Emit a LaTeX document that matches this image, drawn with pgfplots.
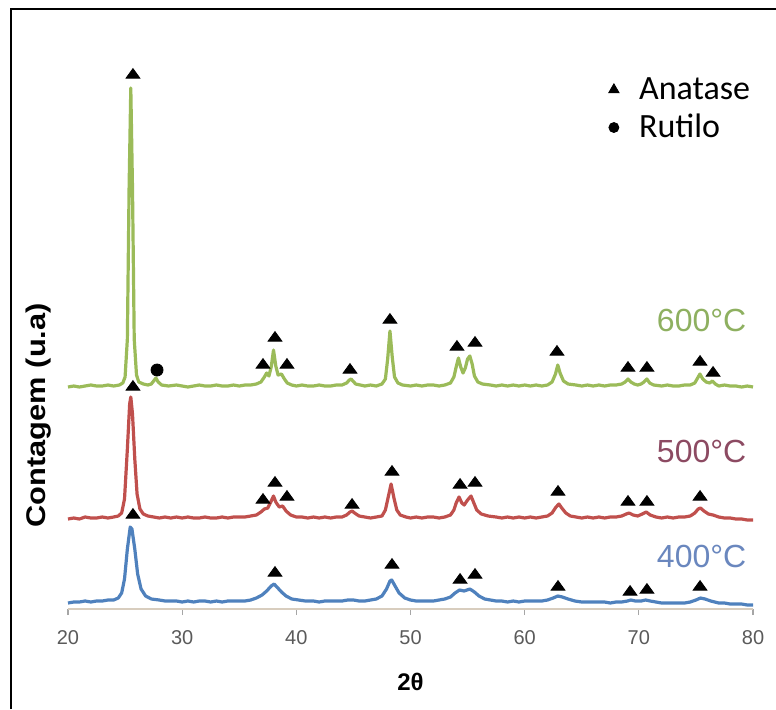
\documentclass[border=0pt]{standalone}
\usepackage{pgfplots}
\pgfplotsset{compat=1.18}
\usepackage{fontspec}
\setmainfont{Liberation Sans}
\newfontfamily\carlito{Carlito}
\definecolor{cgreen}{HTML}{9BBB59}
\definecolor{cred}{HTML}{C0504D}
\definecolor{cblue}{HTML}{4F81BD}
\definecolor{lgreen}{HTML}{8EB060}
\definecolor{lred}{HTML}{8C4A62}
\definecolor{lblue}{HTML}{6A87BE}
\definecolor{tickgray}{HTML}{5A5A5A}
\definecolor{axisgray}{HTML}{D8CDBE}
\begin{document}
\begin{tikzpicture}
\path[use as bounding box] (0,0) rectangle (388pt,354.5pt);
\draw[line width=1pt] (5.5pt,0) -- (5.5pt,350pt) -- (388pt,350pt);
\begin{axis}[
  at={(34pt,50pt)}, anchor=south west,
  scale only axis, width=342.5pt, height=280pt,
  xmin=20, xmax=80, ymin=0, ymax=560,
  hide y axis,
  axis x line*=bottom,
  x axis line style={-, draw=axisgray, line width=0.8pt},
  xtick={20,30,...,80},
  tick align=outside, major tick length=3pt,
  x tick style={draw=gray!70, line width=0.6pt},
  xticklabel style={font=\fontsize{10}{12}\selectfont, text=tickgray, yshift=-4pt},
  /pgf/number format/assume math mode=true,
  clip=false,
  xlabel={\textbf{2θ}},
  xlabel style={font=\bfseries\fontsize{12}{14}\selectfont, at={(axis description cs:0.5,0)}, anchor=center, yshift=-36.5pt},
  legend style={at={(axis cs:66.8,540)}, anchor=north west, draw=none, fill=none,
    font=\carlito\fontsize{17}{20}\selectfont, row sep=2pt},
  legend cell align=left,
]
\addlegendimage{only marks, mark=triangle*, mark size=3pt, black}
\addlegendentry{\hspace{8pt}Anatase}
\addlegendimage{only marks, mark=*, mark size=2.5pt, black}
\addlegendentry{\hspace{8pt}Rutilo}

% 400 C
\addplot[cblue, line width=1.6pt, line join=round] coordinates {
(20,6)(20.5,7)(21,7)(21.5,8)(22,7)(22.5,8)(23,8)(23.5,9)(24,9)(24.4,11)(24.7,16)(24.95,30)(25.2,60)(25.45,82)(25.6,80)(25.85,60)(26.1,35)(26.4,20)(26.8,13)(27.3,10)(28,9)(28.5,8)(29,8)(29.5,8)(30,7)(30.5,8)(31,7)(31.5,8)(32,8)(32.5,7)(33,8)(33.5,7)(34,8)(34.5,8)(35,8)(35.5,8)(36,9)(36.5,11)(37,14)(37.4,18)(37.8,23)(38.05,25)(38.3,22)(38.7,17)(39.1,13)(39.6,10)(40.2,9)(40.8,8)(41.5,8)(42,7)(42.5,8)(43,8)(43.5,8)(44,8)(44.5,9)(45,9)(45.5,8)(46,8)(46.5,9)(47,10)(47.5,13)(47.9,20)(48.2,28)(48.35,29)(48.6,24)(49,16)(49.5,11)(50,9)(50.5,8)(51,8)(51.5,8)(52,8)(52.5,9)(53,10)(53.5,12)(53.9,16)(54.3,19)(54.7,18)(55.2,20)(55.6,17)(56,13)(56.5,10)(57,9)(57.5,8)(58,8)(58.5,7)(59,8)(59.5,7)(60,8)(60.5,8)(61,8)(61.5,8)(62,9)(62.5,11)(62.9,13)(63.3,12)(63.8,10)(64.4,8)(65,7)(65.5,7)(66,7)(66.5,7)(67,7)(67.5,6)(68,7)(68.5,7)(69,8)(69.3,9)(69.7,8)(70.2,8)(70.6,9)(71,8)(71.5,7)(72,6)(72.5,6)(73,6)(73.5,6)(74,6)(74.5,7)(75,9)(75.4,11)(75.8,10)(76.3,8)(77,6)(77.5,6)(78,5)(78.5,5)(79,5)(79.5,4)(80,4)
};
% 500 C
\addplot[cred, line width=1.6pt, line join=round] coordinates {
(20,90)(20.5,91)(21,90)(21.5,92)(22,91)(22.5,91)(23,92)(23.5,91)(24,92)(24.4,93)(24.7,96)(24.95,110)(25.2,160)(25.4,205)(25.5,212)(25.65,195)(25.85,150)(26.05,115)(26.3,100)(26.6,95)(27,93)(27.5,92)(28,91)(28.5,92)(29,91)(29.5,92)(30,91)(30.5,92)(31,91)(31.5,91)(32,92)(32.5,91)(33,91)(33.5,92)(34,91)(34.5,92)(35,92)(35.5,92)(36,93)(36.5,94)(36.9,97)(37.2,100)(37.5,101)(37.8,108)(38.0,113)(38.2,107)(38.5,102)(38.8,103)(39.1,98)(39.5,94)(40,92)(40.5,92)(41,91)(41.5,92)(42,91)(42.5,92)(43,91)(43.5,92)(44,92)(44.4,94)(44.7,97)(44.9,98)(45.1,96)(45.5,93)(46,92)(46.5,91)(47,92)(47.5,93)(47.8,99)(48.05,112)(48.3,125)(48.55,111)(48.8,99)(49.1,94)(49.6,92)(50,91)(50.5,92)(51,91)(51.5,92)(52,92)(52.5,91)(53,92)(53.5,94)(53.8,99)(54.0,106)(54.25,112)(54.5,106)(54.7,104)(55.0,109)(55.3,113)(55.55,106)(55.8,99)(56.2,95)(56.8,93)(57.5,92)(58,91)(58.5,92)(59,91)(59.5,92)(60,91)(60.5,92)(61,91)(61.5,92)(62,93)(62.4,96)(62.75,102)(63.0,105)(63.25,101)(63.6,96)(64,93)(64.5,92)(65,91)(65.5,92)(66,91)(66.5,92)(67,91)(67.5,92)(68,92)(68.5,93)(68.9,95)(69.15,96)(69.5,94)(69.9,93)(70.3,95)(70.65,97)(71,94)(71.5,92)(72,91)(72.5,92)(73,91)(73.5,92)(74,92)(74.5,93)(74.9,96)(75.2,100)(75.4,101)(75.7,98)(76.1,95)(76.5,94)(77,92)(77.5,91)(78,91)(78.5,90)(79,90)(79.5,89)(80,89)
};
% 600 C
\addplot[cgreen, line width=1.6pt, line join=round] coordinates {
(20,222)(20.5,223)(21,222)(21.5,223)(22,224)(22.5,223)(23,223)(23.5,224)(24,223)(24.5,224)(24.8,226)(25.0,232)(25.2,270)(25.35,420)(25.5,521)(25.65,420)(25.8,270)(26.0,234)(26.2,227)(26.6,225)(27.0,224)(27.3,225)(27.5,228)(27.7,231)(27.9,227)(28.2,224)(28.8,223)(29.5,224)(30,223)(30.5,222)(31,223)(31.5,224)(32,223)(32.5,223)(33,224)(33.5,223)(34,223)(34.5,224)(35,223)(35.5,224)(36,224)(36.5,225)(36.9,227)(37.2,232)(37.4,236)(37.6,233)(37.8,242)(38.0,259)(38.2,243)(38.4,234)(38.7,235)(38.9,231)(39.2,226)(39.6,224)(40,223)(40.5,224)(41,223)(41.5,223)(42,224)(42.5,223)(43,223)(43.5,224)(44,224)(44.4,226)(44.65,229)(44.8,230)(44.95,228)(45.2,225)(45.6,224)(46,223)(46.5,224)(47,223)(47.5,225)(47.8,230)(48.0,250)(48.2,278)(48.4,252)(48.6,232)(48.9,226)(49.3,224)(50,223)(50.5,224)(51,223)(51.5,224)(52,224)(52.5,223)(53,224)(53.5,226)(53.8,232)(54.0,242)(54.2,251)(54.4,242)(54.6,236)(54.8,241)(55.0,250)(55.2,253)(55.4,245)(55.6,233)(55.9,227)(56.3,225)(57,224)(57.5,223)(58,224)(58.5,223)(59,224)(59.5,223)(60,224)(60.5,223)(61,224)(61.5,223)(62,224)(62.4,227)(62.7,235)(62.9,244)(63.1,236)(63.4,228)(63.8,225)(64.5,224)(65,223)(65.5,224)(66,223)(66.5,224)(67,223)(67.5,224)(68,224)(68.5,225)(68.8,227)(69.05,230)(69.3,227)(69.6,225)(69.9,224)(70.2,225)(70.45,227)(70.7,230)(70.95,226)(71.3,224)(72,223)(72.5,224)(73,223)(73.5,223)(74,224)(74.5,224)(74.9,226)(75.15,231)(75.35,235)(75.6,230)(75.9,227)(76.2,226)(76.45,228)(76.7,225)(77,223)(77.5,224)(78,223)(78.5,223)(79,222)(79.5,223)(80,222)
};

% anatase markers
\addplot[only marks, mark=triangle*, mark size=4pt, black, mark options={yscale=0.8}] coordinates {
(25.69,534)(37.08,244)(38.13,271)(39.18,244)(44.70,239)(48.20,289)(54.07,262)(55.65,266)(62.83,257)(69.05,241)(70.71,241)(75.36,247)(76.50,236)
};
\addplot[only marks, mark=triangle*, mark size=4pt, black, mark options={yscale=0.8}] coordinates {
(25.69,222)(37.08,109)(38.13,126)(39.18,112)(44.88,104)(48.38,137)(54.34,124)(55.65,126)(62.92,117)(69.05,107)(70.71,107)(75.36,112)
};
\addplot[only marks, mark=triangle*, mark size=4pt, black, mark options={yscale=0.8}] coordinates {
(25.69,94)(38.13,36)(48.38,44)(54.34,29)(55.65,34)(62.92,22)(69.23,17)(70.71,19)(75.36,22)
};
% rutile marker
\addplot[only marks, mark=*, mark size=3pt, black] coordinates {(27.80,239)};

\node[text=lgreen, font=\fontsize{16}{19}\selectfont] at (axis cs:75.5,289) {600°C};
\node[text=lred, font=\fontsize{16}{19}\selectfont] at (axis cs:75.5,158) {500°C};
\node[text=lblue, font=\fontsize{16}{19}\selectfont] at (axis cs:75.5,53) {400°C};
\node[rotate=90, font=\bfseries\fontsize{13.5}{16}\selectfont] at ([xshift=-14.5pt]rel axis cs:0,0.346) {\scalebox{1.14}[1]{Contagem (u.a)}};
\end{axis}
\end{tikzpicture}
\end{document}
